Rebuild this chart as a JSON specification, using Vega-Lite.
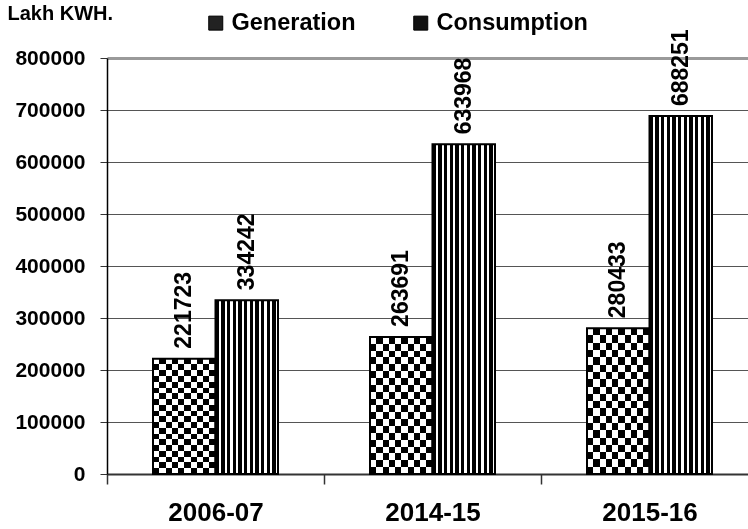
{
  "$schema": "https://vega.github.io/schema/vega-lite/v6.json",
  "width": 641,
  "height": 416,
  "autosize": {"type": "none"},
  "padding": {"left": 107, "top": 58, "right": 0, "bottom": 55},
  "background": "white",
  "config": {"view": {"stroke": null}},
  "data": {
    "values": [
      {"year": "2006-07", "series": "Generation", "value": 221723},
      {"year": "2006-07", "series": "Consumption", "value": 334242},
      {"year": "2014-15", "series": "Generation", "value": 263691},
      {"year": "2014-15", "series": "Consumption", "value": 633968},
      {"year": "2015-16", "series": "Generation", "value": 280433},
      {"year": "2015-16", "series": "Consumption", "value": 688251}
    ]
  },
  "encoding": {
    "x": {
      "field": "year",
      "type": "nominal",
      "sort": null,
      "scale": {"range": [0, 651], "paddingInner": 0.424, "paddingOuter": 0.212},
      "axis": {
        "title": null,
        "labelAngle": 0,
        "labelFont": "Liberation Sans, Arial",
        "labelFontSize": 26,
        "labelFontWeight": "bold",
        "labelColor": "black",
        "tickOffset": -108.5,
        "labelOffset": 108.5,
        "tickSize": 10,
        "tickColor": "#333",
        "tickWidth": 1.5,
        "domainColor": "#333",
        "domainWidth": 2,
        "labelPadding": 15,
        "grid": false
      }
    },
    "xOffset": {
      "field": "series",
      "type": "nominal",
      "scale": {"domain": ["Generation", "Consumption"], "paddingInner": 0, "paddingOuter": 0}
    },
    "y": {
      "field": "value",
      "type": "quantitative",
      "scale": {"domain": [0, 800000], "nice": false},
      "axis": {
        "title": "Lakh KWH.",
        "titleAngle": 0,
        "titleAlign": "left",
        "titleBaseline": "top",
        "titleX": -100,
        "titleY": -55,
        "titleFont": "Liberation Sans, Arial",
        "titleFontSize": 20,
        "titleFontWeight": "bold",
        "titleColor": "black",
        "values": [0, 100000, 200000, 300000, 400000, 500000, 600000, 700000, 800000],
        "format": "d",
        "labelFont": "Liberation Sans, Arial",
        "labelFontSize": 21,
        "labelFontWeight": "bold",
        "labelColor": "black",
        "tickSize": 7,
        "tickColor": "#333",
        "labelPadding": 15,
        "domainColor": "black",
        "domainWidth": 1.5,
        "gridColor": {"condition": {"test": "datum.value === 800000", "value": "#9a9a9a"}, "value": "#555555"},
        "gridWidth": {"condition": {"test": "datum.value === 800000", "value": 3}, "value": 1.2}
      }
    }
  },
  "layer": [
    {
      "transform": [{"filter": "datum.series === 'Consumption'"}],
      "mark": {
        "type": "bar",
        "fill": {
          "gradient": "linear", "x1": 0, "y1": 0, "x2": 1, "y2": 0,
          "stops": [
            {"offset": 0, "color": "black"}, {"offset": 0.0545, "color": "black"}, {"offset": 0.0545, "color": "white"}, {"offset": 0.0909, "color": "white"},
            {"offset": 0.0909, "color": "black"}, {"offset": 0.1455, "color": "black"}, {"offset": 0.1455, "color": "white"}, {"offset": 0.1818, "color": "white"},
            {"offset": 0.1818, "color": "black"}, {"offset": 0.2364, "color": "black"}, {"offset": 0.2364, "color": "white"}, {"offset": 0.2727, "color": "white"},
            {"offset": 0.2727, "color": "black"}, {"offset": 0.3273, "color": "black"}, {"offset": 0.3273, "color": "white"}, {"offset": 0.3636, "color": "white"},
            {"offset": 0.3636, "color": "black"}, {"offset": 0.4182, "color": "black"}, {"offset": 0.4182, "color": "white"}, {"offset": 0.4545, "color": "white"},
            {"offset": 0.4545, "color": "black"}, {"offset": 0.5091, "color": "black"}, {"offset": 0.5091, "color": "white"}, {"offset": 0.5455, "color": "white"},
            {"offset": 0.5455, "color": "black"}, {"offset": 0.6, "color": "black"}, {"offset": 0.6, "color": "white"}, {"offset": 0.6364, "color": "white"},
            {"offset": 0.6364, "color": "black"}, {"offset": 0.6909, "color": "black"}, {"offset": 0.6909, "color": "white"}, {"offset": 0.7273, "color": "white"},
            {"offset": 0.7273, "color": "black"}, {"offset": 0.7818, "color": "black"}, {"offset": 0.7818, "color": "white"}, {"offset": 0.8182, "color": "white"},
            {"offset": 0.8182, "color": "black"}, {"offset": 0.8727, "color": "black"}, {"offset": 0.8727, "color": "white"}, {"offset": 0.9091, "color": "white"},
            {"offset": 0.9091, "color": "black"}, {"offset": 0.9636, "color": "black"}, {"offset": 0.9636, "color": "white"}, {"offset": 1, "color": "white"}
          ]
        }
      }
    },
    {
      "transform": [{"filter": "datum.series === 'Generation'"}],
      "mark": {
        "type": "bar",
        "fill": {
          "gradient": "linear", "x1": 0, "y1": 0, "x2": 1, "y2": 0,
          "stops": [
            {"offset": 0, "color": "black"}, {"offset": 0.1, "color": "black"}, {"offset": 0.1, "color": "white"}, {"offset": 0.2, "color": "white"},
            {"offset": 0.2, "color": "black"}, {"offset": 0.3, "color": "black"}, {"offset": 0.3, "color": "white"}, {"offset": 0.4, "color": "white"},
            {"offset": 0.4, "color": "black"}, {"offset": 0.5, "color": "black"}, {"offset": 0.5, "color": "white"}, {"offset": 0.6, "color": "white"},
            {"offset": 0.6, "color": "black"}, {"offset": 0.7, "color": "black"}, {"offset": 0.7, "color": "white"}, {"offset": 0.8, "color": "white"},
            {"offset": 0.8, "color": "black"}, {"offset": 0.9, "color": "black"}, {"offset": 0.9, "color": "white"}, {"offset": 1, "color": "white"}
          ]
        }
      }
    },
    {
      "transform": [{"filter": "datum.series === 'Generation'"}],
      "mark": {
        "type": "bar",
        "blend": "difference",
        "fill": {
          "gradient": "linear", "x1": 0, "y1": 0, "x2": 0, "y2": 1,
          "stops": [
            {"offset": 0, "color": "white"}, {"offset": 0.05, "color": "white"}, {"offset": 0.05, "color": "black"}, {"offset": 0.1, "color": "black"},
            {"offset": 0.1, "color": "white"}, {"offset": 0.15, "color": "white"}, {"offset": 0.15, "color": "black"}, {"offset": 0.2, "color": "black"},
            {"offset": 0.2, "color": "white"}, {"offset": 0.25, "color": "white"}, {"offset": 0.25, "color": "black"}, {"offset": 0.3, "color": "black"},
            {"offset": 0.3, "color": "white"}, {"offset": 0.35, "color": "white"}, {"offset": 0.35, "color": "black"}, {"offset": 0.4, "color": "black"},
            {"offset": 0.4, "color": "white"}, {"offset": 0.45, "color": "white"}, {"offset": 0.45, "color": "black"}, {"offset": 0.5, "color": "black"},
            {"offset": 0.5, "color": "white"}, {"offset": 0.55, "color": "white"}, {"offset": 0.55, "color": "black"}, {"offset": 0.6, "color": "black"},
            {"offset": 0.6, "color": "white"}, {"offset": 0.65, "color": "white"}, {"offset": 0.65, "color": "black"}, {"offset": 0.7, "color": "black"},
            {"offset": 0.7, "color": "white"}, {"offset": 0.75, "color": "white"}, {"offset": 0.75, "color": "black"}, {"offset": 0.8, "color": "black"},
            {"offset": 0.8, "color": "white"}, {"offset": 0.85, "color": "white"}, {"offset": 0.85, "color": "black"}, {"offset": 0.9, "color": "black"},
            {"offset": 0.9, "color": "white"}, {"offset": 0.95, "color": "white"}, {"offset": 0.95, "color": "black"}, {"offset": 1, "color": "black"}
          ]
        }
      }
    },
    {
      "mark": {"type": "bar", "fillOpacity": 0, "stroke": "black", "strokeWidth": 2},
      "encoding": {
        "fill": {
          "field": "series",
          "type": "nominal",
          "scale": {"domain": ["Generation", "Consumption"], "range": ["#222222", "#111111"]},
          "legend": {
            "title": null,
            "orient": "none",
            "legendX": 97,
            "legendY": -47,
            "direction": "horizontal",
            "symbolType": "square",
            "symbolSize": 196,
            "symbolStrokeColor": "black",
            "symbolStrokeWidth": 1,
            "symbolOpacity": 1,
            "labelFont": "Liberation Sans, Arial",
            "labelFontSize": 23.5,
            "labelFontWeight": "bold",
            "labelColor": "black",
            "labelOffset": 4,
            "labelLimit": 400,
            "columnPadding": 53
          }
        }
      }
    },
    {
      "mark": {
        "type": "text",
        "angle": 270,
        "align": "left",
        "baseline": "middle",
        "dx": 10,
        "font": "Liberation Sans, Arial",
        "fontSize": 23,
        "fontWeight": "bold",
        "fill": "black"
      },
      "encoding": {
        "text": {"field": "value", "type": "quantitative", "format": "d"}
      }
    }
  ]
}
